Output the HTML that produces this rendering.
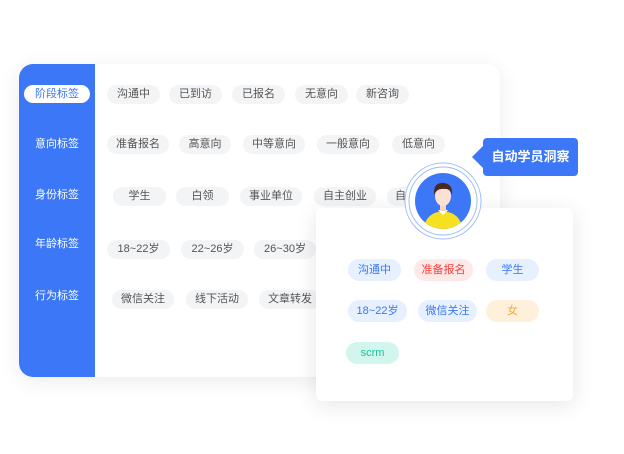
<!DOCTYPE html>
<html><head><meta charset="utf-8"><style>
*{margin:0;padding:0;box-sizing:border-box}
body{width:624px;height:454px;background:#fff;position:relative;overflow:hidden;font-family:"Liberation Sans","Noto Sans CJK SC",sans-serif}
.card{position:absolute;left:19px;top:64px;width:481px;height:313px;background:#fff;border-radius:14px;box-shadow:0 4px 22px rgba(0,0,0,.08);overflow:hidden}
.side{position:absolute;left:0;top:0;width:76px;height:100%;background:#3b77f6}
.sl{position:absolute;left:0;width:76px;text-align:center;color:#fff;font-size:11px;line-height:18px}
.sl.a{left:5px;width:66px;background:#fff;color:#3b77f6;border-radius:9px}
.t{position:absolute;height:19px;line-height:19px;background:#f3f4f6;color:#555;font-size:11px;text-align:center;border-radius:10px}
.pop{position:absolute;left:316px;top:208px;width:257px;height:193px;background:#fff;border-radius:6px;box-shadow:0 4px 22px rgba(0,0,0,.1)}
.p{position:absolute;height:22px;line-height:22px;font-size:11px;text-align:center;border-radius:11px;background:#e6f0ff;color:#3b77f6}
.call{position:absolute;left:483px;top:138px;width:95px;height:38px;background:#3b77f6;border-radius:4px;color:#fff;font-weight:bold;font-size:13px;line-height:38px;text-align:center}
.call:before{content:"";position:absolute;left:-11px;top:8px;border:11px solid transparent;border-left:0;border-right-color:#3b77f6}
</style></head><body>
<div class="card">
<div class="side">
<div class="sl a" style="top:21px">阶段标签</div>
<div class="sl" style="top:71px">意向标签</div>
<div class="sl" style="top:122px">身份标签</div>
<div class="sl" style="top:171px">年龄标签</div>
<div class="sl" style="top:223px">行为标签</div>
</div>
</div>
<div class="t" style="left:107px;top:85px;width:53px">沟通中</div>
<div class="t" style="left:169px;top:85px;width:53px">已到访</div>
<div class="t" style="left:232px;top:85px;width:53px">已报名</div>
<div class="t" style="left:295px;top:85px;width:53px">无意向</div>
<div class="t" style="left:356px;top:85px;width:53px">新咨询</div>
<div class="t" style="left:107px;top:135px;width:62px">准备报名</div>
<div class="t" style="left:179px;top:135px;width:52px">高意向</div>
<div class="t" style="left:243px;top:135px;width:62px">中等意向</div>
<div class="t" style="left:317px;top:135px;width:62px">一般意向</div>
<div class="t" style="left:392px;top:135px;width:53px">低意向</div>
<div class="t" style="left:113px;top:187px;width:53px">学生</div>
<div class="t" style="left:176px;top:187px;width:53px">白领</div>
<div class="t" style="left:240px;top:187px;width:62px">事业单位</div>
<div class="t" style="left:314px;top:187px;width:62px">自主创业</div>
<div class="t" style="left:387px;top:187px;width:40px;text-align:left;padding-left:8px">自</div>
<div class="t" style="left:107px;top:240px;width:63px">18~22岁</div>
<div class="t" style="left:181px;top:240px;width:63px">22~26岁</div>
<div class="t" style="left:254px;top:240px;width:62px">26~30岁</div>
<div class="t" style="left:112px;top:290px;width:62px">微信关注</div>
<div class="t" style="left:186px;top:290px;width:62px">线下活动</div>
<div class="t" style="left:259px;top:290px;width:62px">文章转发</div>
<div class="pop">
<div class="p" style="left:32px;top:51px;width:53px">沟通中</div>
<div class="p" style="left:98px;top:51px;width:59px;background:#ffe9e8;color:#f5413d">准备报名</div>
<div class="p" style="left:170px;top:51px;width:53px">学生</div>
<div class="p" style="left:32px;top:92px;width:59px">18~22岁</div>
<div class="p" style="left:102px;top:92px;width:59px">微信关注</div>
<div class="p" style="left:170px;top:92px;width:53px;background:#fff0dc;color:#f5a93a">女</div>
<div class="p" style="left:30px;top:134px;width:53px;background:#d2f5ee;color:#1fbf9b">scrm</div>
</div>
<svg style="position:absolute;left:400px;top:158px" width="86" height="86" viewBox="0 0 86 86">
<circle cx="43" cy="43" r="38" fill="#fff" stroke="#9dbcf8" stroke-width="1"/>
<circle cx="43" cy="43" r="34" fill="#fff" stroke="#9dbcf8" stroke-width="1"/>
<clipPath id="c"><circle cx="43" cy="43" r="28"/></clipPath>
<circle cx="43" cy="43" r="28" fill="#3b77f6"/>
<g clip-path="url(#c)">
<path d="M24 71 Q25 55 43 53 Q61 55 62 71Z" fill="#f5e122"/>
<path d="M38 52 L43 57 L48 52Z" fill="#fff"/>
<rect x="40" y="45" width="6" height="8" fill="#f5d6c6"/>
<ellipse cx="43" cy="38" rx="8" ry="10" fill="#fbe1d3"/>
<path d="M34 37 Q33 24 44 25 Q53 26 52 37 Q50 30 44 31 Q37 30 34 37Z" fill="#4a2a20"/>
</g>
</svg>
<div class="call">自动学员洞察</div>
</body></html>
